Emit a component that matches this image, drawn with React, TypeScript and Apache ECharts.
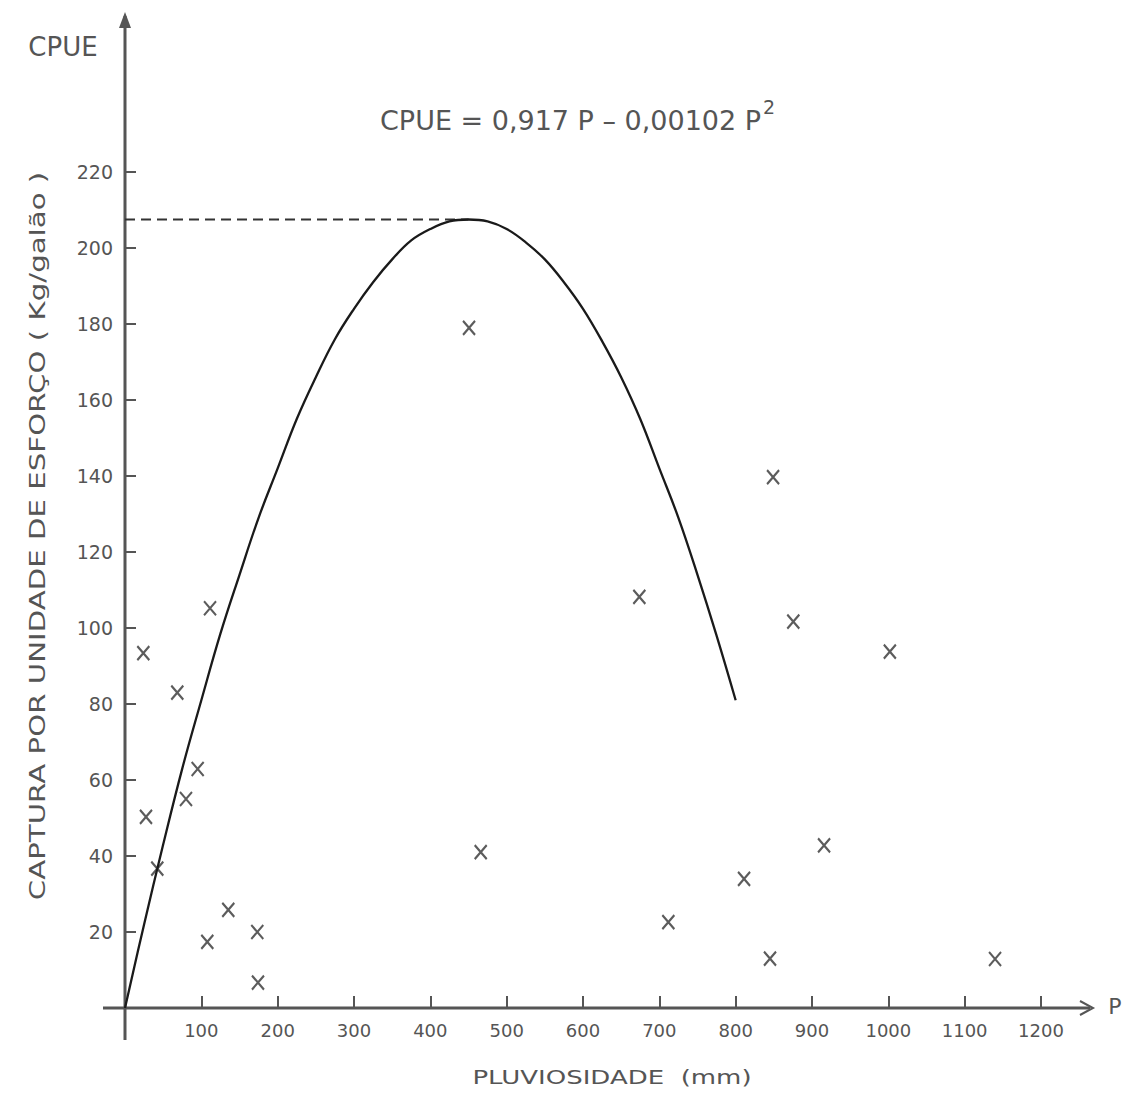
import React, { useEffect, useRef } from "react";
import * as echarts from "echarts";

// Fitted curve, values (P in mm, CPUE in kg/galão)
const curveP = [0, 25, 50, 75, 100, 125, 150, 175, 200, 225, 250, 275, 300, 325, 350, 375, 400, 425, 450, 475, 500, 525, 550, 575, 600, 625, 650, 675, 700, 725, 750, 775, 800];
const curveC = [0, 22, 43, 63, 81, 98.5, 114, 129, 142, 155, 166, 176, 184, 191, 197, 202, 205, 207, 207.5, 207, 205, 201.5, 197, 191, 184, 175.5, 166, 155, 142, 129, 114, 98, 81];

// Observed points (x marks)
const pointsP = [24, 68.5, 111.4, 95.2, 79.9, 27.5, 42.3, 135.3, 173.3, 107.8, 174.2, 450.7, 466, 673.8, 711.8, 849, 875.5, 811, 915.8, 845, 1002, 1139.8];
const pointsC = [93.4, 83, 105.2, 62.9, 55, 50.3, 36.7, 25.8, 20, 17.4, 6.7, 179, 41, 108.2, 22.6, 139.7, 101.7, 34, 42.8, 13, 93.8, 12.9];

// Dashed level of the maximum
const dashedP = [0, 450];
const dashedC = [207.5, 207.5];

const equationText = "CPUE = 0,917 P – 0,00102 P";
const equationSup = "2";
const yName = "CAPTURA POR UNIDADE DE ESFORÇO ( Kg/galão )";
const xName = "PLUVIOSIDADE  (mm)";

const FONT = '"DejaVu Sans", "Noto Sans", sans-serif';
const INK = "#555";

export default function App() {
  const ref = useRef<HTMLDivElement>(null);
  useEffect(() => {
    if (!ref.current) return;
    const chart = echarts.init(ref.current, null, { renderer: "svg" });
    const txt = (text: string, x: number, y: number, size: number, extra: any = {}) => ({
      type: "text",
      x,
      y,
      ...extra,
      style: {
        text,
        font: `${size}px ${FONT}`,
        fill: INK,
        textAlign: extra.align || "center",
        align: extra.align || "center",
        textVerticalAlign: "middle",
        verticalAlign: "middle",
      },
    });
    const option: any = {
      animation: false,
      backgroundColor: "#fff",
      grid: { left: 125, right: 84, top: 172, bottom: 93, containLabel: false },
      xAxis: {
        type: "value",
        min: 0,
        max: 1200,
        interval: 100,
        axisLine: { show: false },
        axisTick: { show: true, inside: true, length: 12, lineStyle: { color: INK, width: 2 } },
        splitLine: { show: false },
        axisLabel: {
          margin: 13,
          fontFamily: FONT,
          fontSize: 18,
          color: INK,
          formatter: (v: number) => (v === 0 ? "" : String(v)),
        },
      },
      yAxis: {
        type: "value",
        min: 0,
        max: 220,
        interval: 20,
        axisLine: { show: false },
        axisTick: { show: true, inside: true, length: 11, lineStyle: { color: INK, width: 2 } },
        splitLine: { show: false },
        axisLabel: {
          margin: 12,
          fontFamily: FONT,
          fontSize: 19,
          color: INK,
          formatter: (v: number) => (v === 0 ? "" : String(v)),
        },
      },
      series: [
        {
          type: "line",
          name: "nivel",
          data: dashedP.map((p, i) => [p, dashedC[i]]),
          showSymbol: false,
          symbol: "none",
          lineStyle: { color: "#333", width: 2, type: [10, 6] },
          silent: true,
        },
        {
          type: "line",
          name: "curva",
          data: curveP.map((p, i) => [p, curveC[i]]),
          smooth: 0.4,
          showSymbol: false,
          symbol: "none",
          lineStyle: { color: "#1a1a1a", width: 2.3 },
          silent: true,
        },
        {
          type: "scatter",
          name: "pontos",
          data: pointsP.map((p, i) => [p, pointsC[i]]),
          symbol: "path://M0 0L10 12M10 0L0 12",
          symbolSize: [12, 14],
          itemStyle: { color: "none", borderColor: "#333", borderWidth: 2.2 },
          silent: true,
        },
      ],
      graphic: [
        // axes drawn as long lines with arrows
        { type: "line", shape: { x1: 103, y1: 1008, x2: 1090, y2: 1008 }, style: { stroke: INK, lineWidth: 3 } },
        { type: "polyline", shape: { points: [[1080, 1001], [1093, 1008], [1080, 1015]] }, style: { stroke: INK, lineWidth: 2, fill: "none" } },
        { type: "line", shape: { x1: 125, y1: 1040, x2: 125, y2: 16 }, style: { stroke: INK, lineWidth: 3 } },
        { type: "polygon", shape: { points: [[119, 28], [125, 12], [131, 28]] }, style: { fill: INK } },
        txt("CPUE", 63, 47, 26),
        txt("P", 1115, 1006, 22),
        txt(equationText, 380, 120, 27, { align: "left" }),
        txt(equationSup, 763, 107, 19, { align: "left" }),
        txt(yName, 37, 536, 22, { rotation: Math.PI / 2, scaleX: 1.33 }),
        txt(xName, 612, 1077, 20, { scaleX: 1.3 }),
      ],
    };
    chart.setOption(option);
    return () => chart.dispose();
  }, []);
  return (
    <div
      ref={ref}
      style={{ position: "fixed", left: 0, top: 0, width: 1125, height: 1101, background: "#fff" }}
    />
  );
}
